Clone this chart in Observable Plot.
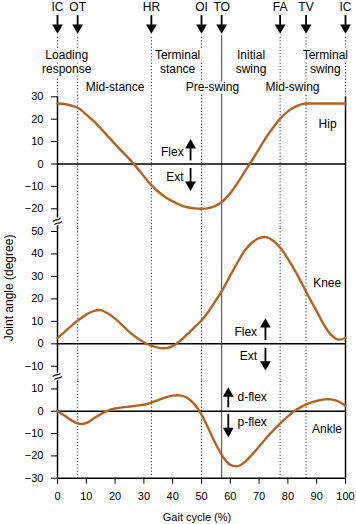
<!DOCTYPE html>
<html><head><meta charset="utf-8">
<script src="https://cdn.jsdelivr.net/npm/d3@7"></script>
<script src="https://cdn.jsdelivr.net/npm/@observablehq/plot@0.6"></script>
<style>
html,body{margin:0;padding:0;background:#fff;}
#chart{width:356px;}
#chart svg{display:block;}
</style></head><body><div id="chart"></div>
<script>
// ---- data ----
const gaitPct = [0,2.5,5,7.5,10,12.5,15,17.5,20,22.5,25,27.5,30,32.5,35,37.5,40,42.5,45,47.5,50,52.5,55,57.5,60,62.5,65,67.5,70,72.5,75,77.5,80,82.5,85,87.5,90,92.5,95,97.5,100];
const hipAngle = [27.0,26.8,26.0,24.8,22.0,19.2,15.9,12.4,8.9,5.5,2.2,-1.5,-5.5,-9.3,-12.4,-14.8,-16.7,-18.2,-19.3,-19.8,-20.0,-19.7,-18.6,-16.5,-13.0,-8.5,-3.5,1.5,6.8,12.0,16.5,20.5,23.5,25.5,26.7,27.0,27.0,27.0,27.0,27.0,27.0];
const kneeAngle = [2.5,5.3,8.2,10.8,13.0,14.6,15.0,13.5,11.2,8.3,5.2,2.7,0.7,-0.8,-1.7,-1.9,-1.0,1.2,4.2,7.3,10.4,14.5,19.3,24.5,30.4,36.2,41.5,45.0,47.0,47.5,45.8,42.5,37.8,32.5,26.5,20.3,14.5,8.5,4.0,1.9,2.6];
const ankleAngle = [0.0,-2.0,-4.2,-5.6,-5.3,-3.3,-1.3,0.3,1.2,1.7,2.1,2.5,2.9,3.8,5.0,6.2,7.0,7.1,6.0,3.2,-1.5,-8.0,-14.8,-20.5,-24.0,-24.6,-22.8,-19.5,-15.8,-12.0,-8.5,-5.2,-2.3,0.3,2.2,3.6,4.6,5.3,5.3,4.4,2.5];

const eventNames = ["IC","OT","HR","OI","TO","FA","TV","IC"];
const eventPct   = [0, 7, 32.6, 50, 57, 77.3, 86.3, 100];
const eventLine  = ["axis","dotted","dotted","dotted","solid","dotted","dotted","axis"];

const phaseNames = ["Loading\nresponse","Mid-stance","Terminal\nstance","Pre-swing","Initial\nswing","Mid-swing","Terminal\nswing"];
const phasePct   = [3.2, 20, 41.7, 53.8, 67.2, 81.6, 93];
const phaseRow   = ["upper","lower","upper","lower","upper","lower","upper"];

const hipTicks   = [-20,-10,0,10,20,30];
const kneeTicks  = [-10,0,10,20,30,40,50];
const ankleTicks = [-30,-20,-10,0,10];
const xTicks     = [0,10,20,30,40,50,60,70,80,90,100];

// annotations (data units)
const hipLabels   = [{x:43.8, y:5.1, text:"Flex", anchor:"end"}, {x:43.8, y:-5.7, text:"Ext", anchor:"end"}, {x:96.9, y:17.8, text:"Hip", anchor:"end"}];
const hipArrows   = [{x:46.2, top:11.1, bottom:1.4, dir:"up"}, {x:46.2, top:-2.0, bottom:-12.0, dir:"down"}];
const kneeLabels  = [{x:69.3, y:5.2, text:"Flex", anchor:"end"}, {x:69.3, y:-5.7, text:"Ext", anchor:"end"}, {x:98.5, y:27.2, text:"Knee", anchor:"end"}];
const kneeArrows  = [{x:72.2, top:11.4, bottom:1.5, dir:"up"}, {x:72.2, top:-2.0, bottom:-11.9, dir:"down"}];
const ankleLabels = [{x:62.5, y:6.3, text:"d-flex", anchor:"start"}, {x:62.5, y:-5.1, text:"p-flex", anchor:"start"}, {x:98.8, y:-7.9, text:"Ankle", anchor:"end"}];
const ankleArrows = [{x:59.3, top:10.7, bottom:1.5, dir:"up"}, {x:59.3, top:-1.5, bottom:-11.6, dir:"down"}];

// ---- styling ----
const W = 356, ML = 57, MR = 11;
const font = "'Liberation Sans', Arial, Helvetica, sans-serif";
const brown = "#b4621f";
const dotted = {stroke:"#333", strokeWidth:1, strokeDasharray:"1.2,2"};
const svgStyle = {fontFamily:font, fontSize:"12px", background:"transparent", overflow:"visible", color:"black"};
const rows = vals => gaitPct.map((p,i) => ({pct:p, angle:vals[i]}));
const dottedPct = eventPct.filter((d,i) => eventLine[i] === "dotted");
const solidPct  = eventPct.filter((d,i) => eventLine[i] === "solid");
const axisPct   = eventPct.filter((d,i) => eventLine[i] === "axis");

function arrowMarks(arr) {
  const up = arr.filter(d => d.dir === "up"), down = arr.filter(d => d.dir === "down");
  return [
    Plot.ruleX(up,   {x:"x", y1:"top", y2:"bottom", stroke:"black", strokeWidth:1.8, insetTop:4}),
    Plot.ruleX(down, {x:"x", y1:"top", y2:"bottom", stroke:"black", strokeWidth:1.8, insetBottom:4}),
    Plot.dot(up,   {x:"x", y:"top", symbol:"triangle", r:4, fill:"black", stroke:"none", dy:6.2}),
    Plot.dot(down, {x:"x", y:"bottom", symbol:"triangle", rotate:180, r:4, fill:"black", stroke:"none", dy:-6.2})
  ];
}
function labelMarks(arr) {
  return ["start","end"].map(a => Plot.text(arr.filter(d => d.anchor === a), {x:"x", y:"y", text:"text", textAnchor:a, lineAnchor:"middle", fontSize:12, fill:"black"}));
}
function breakMark(dy) {
  return Plot.text(["≈"], {text:d=>d, frameAnchor:"bottom-left", textAnchor:"middle", lineAnchor:"middle", dy, fontSize:17, rotate:-25, fill:"black", stroke:"white", strokeWidth:3, paintOrder:"stroke"});
}
function panelRules(insetTopAxis) {
  return [
    Plot.ruleX(dottedPct, dotted),
    Plot.ruleX(solidPct, {stroke:"#444", strokeWidth:1}),
    Plot.ruleX(axisPct, {stroke:"black", strokeWidth:1.5, insetTop:insetTopAxis}),
    Plot.ruleY([0], {stroke:"black", strokeWidth:1.5})
  ];
}
const curve = (vals) => Plot.line(rows(vals), {x:"pct", y:"angle", stroke:brown, strokeWidth:2.4, curve:"catmull-rom"});

// ---- header ----
const phases = phaseNames.map((n,i)=>({n, x:phasePct[i], row:phaseRow[i]}));
const halo = {fill:"black", stroke:"white", strokeWidth:5, paintOrder:"stroke"};
const header = Plot.plot({
  width:W, height:95, marginLeft:ML, marginRight:MR, marginTop:0, marginBottom:0,
  x:{domain:[0,100], axis:null},
  style:svgStyle,
  marks:[
    Plot.ruleX(eventPct.filter((d,i)=>eventLine[i] !== "solid"), {...dotted, insetTop:37}),
    Plot.ruleX(solidPct, {stroke:"#444", strokeWidth:1, insetTop:35}),
    Plot.text(phases.filter(d=>d.row==="upper"), {x:"x", text:"n", frameAnchor:"top", lineAnchor:"middle", dy:61, lineHeight:1.17, fontSize:12, ...halo}),
    Plot.text(phases.filter(d=>d.row==="lower"), {x:"x", text:"n", frameAnchor:"top", lineAnchor:"middle", dy:87, fontSize:12, ...halo}),
    Plot.ruleX(eventPct, {stroke:"black", strokeWidth:1.8, insetTop:15, insetBottom:66}),
    Plot.dot(eventPct, {x:d=>d, frameAnchor:"top", dy:27, symbol:"triangle", rotate:180, r:4, fill:"black", stroke:"none"}),
    Plot.text(eventNames, {x:(d,i)=>eventPct[i], text:d=>d, frameAnchor:"top", lineAnchor:"middle", dy:7, fontSize:12, fill:"black"})
  ]
});

// ---- hip ----
const hip = Plot.plot({
  width:W, height:133, marginLeft:ML, marginRight:MR, marginTop:0, marginBottom:0,
  x:{domain:[0,100], axis:null},
  y:{domain:[-20,30], range:[113.3,1.3]},
  style:svgStyle,
  marks:[
    ...panelRules(1.3),
    Plot.axisY({ticks:hipTicks, tickSize:6, tickPadding:8, fontSize:11}),
    curve(hipAngle),
    ...arrowMarks(hipArrows),
    ...labelMarks(hipLabels),
    breakMark(-7)
  ]
});

// ---- knee ----
const knee = Plot.plot({
  width:W, height:153, marginLeft:ML, marginRight:MR, marginTop:0, marginBottom:0,
  x:{domain:[0,100], axis:null},
  y:{domain:[-10,50], range:[137.8,3.0]},
  style:svgStyle,
  marks:[
    ...panelRules(0),
    Plot.axisY({ticks:kneeTicks, tickSize:6, tickPadding:8, fontSize:11}),
    curve(kneeAngle),
    ...arrowMarks(kneeArrows),
    ...labelMarks(kneeLabels),
    breakMark(-5),
    Plot.text(["Joint angle (degree)"], {text:d=>d, frameAnchor:"top-left", textAnchor:"middle", lineAnchor:"middle", dx:-48, dy:59.5, rotate:-90, fontSize:12, fill:"black"})
  ]
});

// ---- ankle ----
const ankle = Plot.plot({
  width:W, height:143, marginLeft:ML, marginRight:MR, marginTop:0, marginBottom:46.3,
  x:{domain:[0,100]},
  y:{domain:[-30,10], range:[96.7,7.4]},
  style:svgStyle,
  marks:[
    ...panelRules(0),
    Plot.ruleY([-30], {stroke:"black", strokeWidth:1.5}),
    Plot.axisY({ticks:ankleTicks, tickSize:6, tickPadding:8, fontSize:11}),
    Plot.axisX({ticks:xTicks, tickSize:6, tickPadding:8, fontSize:11, label:null}),
    curve(ankleAngle),
    ...arrowMarks(ankleArrows),
    ...labelMarks(ankleLabels),
    Plot.text(["Gait cycle (%)"], {text:d=>d, frameAnchor:"bottom", lineAnchor:"middle", dx:-4.5, dy:38.8, fontSize:11, fill:"black"})
  ]
});

const root = document.getElementById("chart");
[header, hip, knee, ankle].forEach(p => root.appendChild(p));
</script></body></html>
